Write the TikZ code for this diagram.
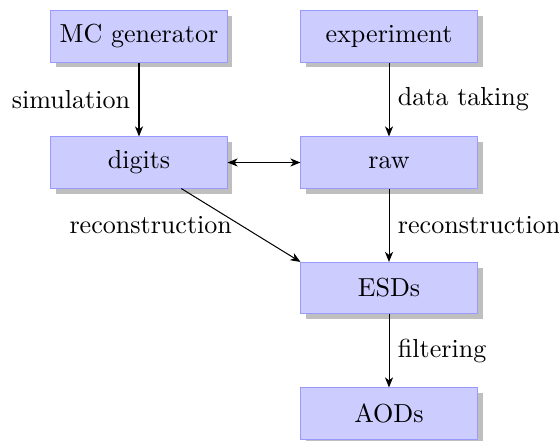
\documentclass[tikz,border=0pt]{standalone}
\usetikzlibrary{shadows,arrows.meta}
\begin{document}
\begin{tikzpicture}[x=0.3953pt,y=-0.3953pt,
  every node/.style={font=\fontsize{10.3pt}{12pt}\selectfont},
  box/.style={draw=blue!40,fill=blue!20,drop shadow,minimum width=69.6pt,minimum height=20.2pt,inner sep=2pt},
  conn/.style={-{Stealth[length=4pt,width=3.2pt,inset=1.2pt]},line width=0.4pt}]
\useasboundingbox (0,0) rectangle (559,441);
\node[box] (mc) at (139,36.5) {MC generator};
\node[box] (exp) at (389,36.5) {experiment};
\node[box] (dig) at (139,162.5) {digits};
\node[box] (raw) at (389,162.5) {raw};
\node[box] (esd) at (389,288) {ESDs};
\node[box] (aod) at (389,413.5) {AODs};
\draw[conn] (mc) -- node[midway,left] {simulation} (dig);
\draw[conn] (exp) -- node[midway,right] {data taking} (raw);
\draw[conn,{Stealth[length=4pt,width=3.2pt,inset=1.2pt]}-{Stealth[length=4pt,width=3.2pt,inset=1.2pt]}] (dig) -- (raw);
\draw[conn] (dig) -- node[midway,left] {reconstruction} (esd.north west);
\draw[conn] (raw) -- node[midway,right] {reconstruction} (esd);
\draw[conn] (esd) -- node[midway,right] {filtering} (aod);
\end{tikzpicture}
\end{document}
